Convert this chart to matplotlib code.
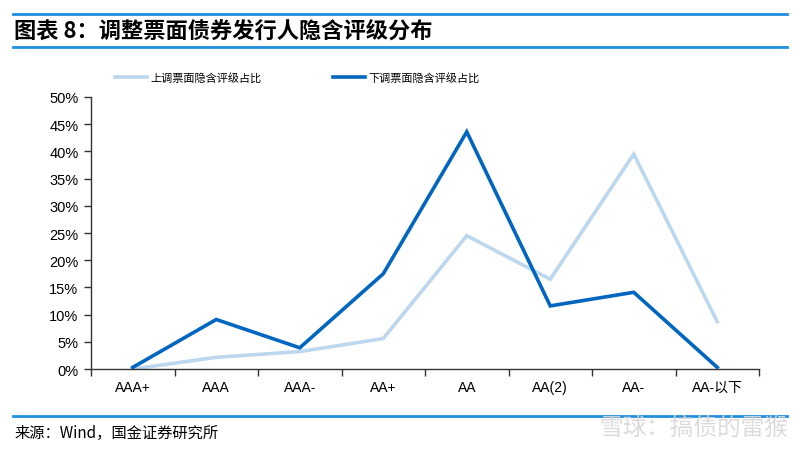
import matplotlib
matplotlib.use("Agg")
import matplotlib.pyplot as plt
from matplotlib.lines import Line2D
from matplotlib.ticker import PercentFormatter, FixedLocator

plt.rcParams['font.family'] = ['Noto Sans CJK SC', 'DejaVu Sans']

CATEGORIES = ["AAA+", "AAA", "AAA-", "AA+", "AA", "AA(2)", "AA-", "AA-以下"]
UP_SHARE = [0.0, 2.15, 3.2, 5.6, 24.5, 16.5, 39.5, 8.7]
DOWN_SHARE = [0.3, 9.1, 3.9, 17.5, 43.6, 11.6, 14.1, 0.3]
Y_TICKS = list(range(0, 55, 5))

LIGHT = "#BDD7EE"
DARK = "#0066C0"
RULE = "#1E8FE0"
TEXT = "#000000"

fig = plt.figure(figsize=(8, 4.52), dpi=100)
ax = fig.add_axes([0.11375, 0.1814, 0.835, 0.6018])

x = list(range(len(CATEGORIES)))
ax.plot(x, UP_SHARE, color=LIGHT, linewidth=2.6, solid_joinstyle="miter", zorder=2)
ax.plot(x, DOWN_SHARE, color=DARK, linewidth=2.6, solid_joinstyle="miter", zorder=3)

ax.set_xlim(-0.5, len(CATEGORIES) - 0.5)
ax.set_ylim(0, 50)
ax.set_yticks(Y_TICKS)
ax.yaxis.set_major_formatter(PercentFormatter(decimals=0))
ax.set_xticks(x)
ax.set_xticklabels(CATEGORIES, fontsize=10, color=TEXT)
ax.xaxis.set_minor_locator(FixedLocator([i - 0.5 for i in range(len(CATEGORIES) + 1)]))
ax.tick_params(axis="x", which="major", length=0, pad=8)
ax.tick_params(axis="x", which="minor", length=5, width=1, color="#333333", direction="out")
ax.tick_params(axis="y", length=5, width=1, color="#333333", labelsize=10.5, labelcolor=TEXT, pad=4)
for lab in ax.get_yticklabels():
    lab.set_family(["Liberation Sans", "DejaVu Sans"])
for lab in ax.get_xticklabels():
    lab.set_family(["Liberation Sans", "Noto Sans CJK SC"])

for s in ["top", "right"]:
    ax.spines[s].set_visible(False)
ax.spines["left"].set_color("#333333")
ax.spines["bottom"].set_color("#333333")
ax.spines["left"].set_linewidth(1)
ax.spines["bottom"].set_linewidth(1)

# legend
handles = [Line2D([], [], color=LIGHT, linewidth=2.6),
           Line2D([], [], color=DARK, linewidth=2.6)]
fig.legend(handles, ["上调票面隐含评级占比", "下调票面隐含评级占比"],
           loc="center", bbox_to_anchor=(0.372, 0.827), ncol=2, frameon=False,
           fontsize=8, handlelength=2.9, handletextpad=0.3, columnspacing=6.4)

# title block
fig.add_artist(Line2D([0.016, 0.984], [1 - 15 / 452, 1 - 15 / 452], color=RULE, linewidth=2))
fig.add_artist(Line2D([0.016, 0.984], [1 - 48 / 452, 1 - 48 / 452], color=RULE, linewidth=2))
fig.text(0.018, 1 - 31 / 452, "图表 8：调整票面债券发行人隐含评级分布", fontsize=16,
         fontweight="bold", style="italic", va="center", ha="left", color=TEXT)

# source line
fig.add_artist(Line2D([0.016, 0.984], [1 - 416.5 / 452, 1 - 416.5 / 452], color=RULE, linewidth=2))
fig.text(0.018, 1 - 433 / 452, "来源：Wind，国金证券研究所", fontsize=11, va="center", ha="left", color=TEXT)
fig.text(0.985, 1 - 428 / 452, "雪球：搞债的雷猴", fontsize=17, va="center", ha="right",
         color="#d8d8d8", alpha=0.9)

fig.savefig("out.png", dpi=100)
